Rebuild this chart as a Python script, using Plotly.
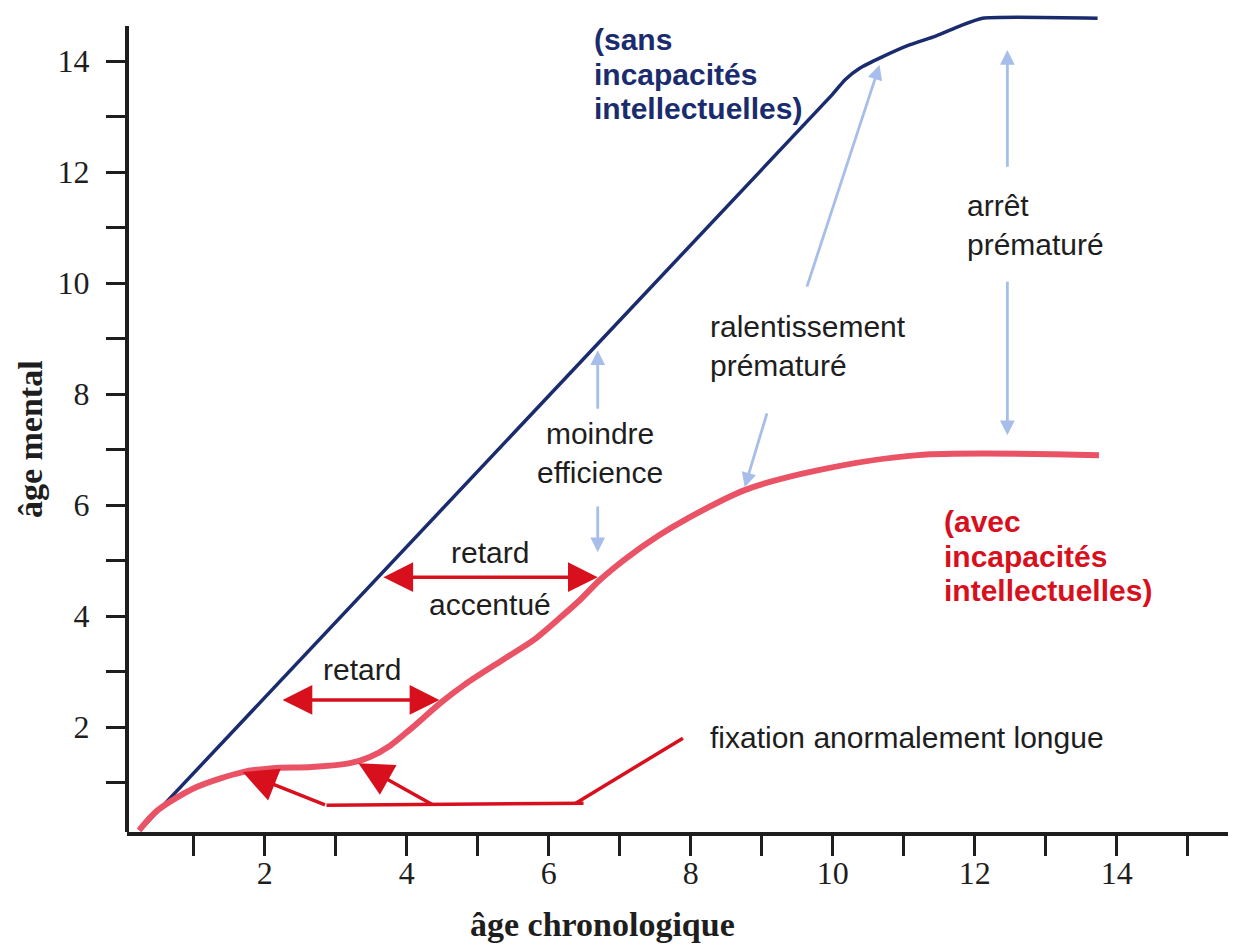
import plotly.graph_objects as go

# ---- data ----
chrono_typical = [0.24, 9.99, 10.17, 10.38, 10.69, 11.08, 11.45, 11.79, 12.11, 13.73]
mental_typical = [0.14, 13.39, 13.66, 13.87, 14.07, 14.29, 14.45, 14.63, 14.77, 14.77]

chrono_id = [0.23, 0.49, 1.04, 1.69, 2.11, 2.66, 3.20, 3.48, 3.76, 4.04, 4.49, 4.82,
             5.35, 5.79, 6.15, 6.44, 6.72, 7.10, 7.56, 7.97, 8.76, 9.80, 11.20, 13.75]
mental_id = [0.14, 0.50, 0.92, 1.19, 1.26, 1.28, 1.35, 1.46, 1.66, 1.95, 2.45, 2.77,
             3.21, 3.57, 3.96, 4.29, 4.65, 5.05, 5.46, 5.77, 6.27, 6.63, 6.90, 6.90]

x_tick_vals = list(range(1, 16))
x_tick_text = [str(v) if v % 2 == 0 and v <= 14 else "" for v in x_tick_vals]
y_tick_vals = list(range(1, 15))
y_tick_text = [str(v) if v % 2 == 0 else "" for v in y_tick_vals]
y_axis_top = 14.63

NAVY = "#1a2c6e"
PINK = "#ea5365"
RED = "#d8101e"
LBLUE = "#a6bee9"
INK = "#1e1e1e"

fig = go.Figure()
fig.add_trace(go.Scatter(x=chrono_typical, y=mental_typical, mode="lines",
                         line=dict(color=NAVY, width=3.5, shape="spline", smoothing=0.5),
                         showlegend=False, hoverinfo="skip"))
fig.add_trace(go.Scatter(x=chrono_id, y=mental_id, mode="lines",
                         line=dict(color=PINK, width=6, shape="spline", smoothing=0.8),
                         showlegend=False, hoverinfo="skip"))

annotations = []


def arrow(x, y, ax, ay, color, width, size, both=False):
    d = dict(x=x, y=y, ax=ax, ay=ay, xref="x", yref="y", axref="x", ayref="y",
             text="", showarrow=True, arrowhead=2, arrowsize=size, arrowwidth=width,
             arrowcolor=color)
    if both:
        d.update(arrowside="end+start", startarrowhead=2, startarrowsize=size)
    return d


# red arrows
annotations.append(arrow(4.46, 2.49, 2.23, 2.49, RED, 3.5, 1.7, both=True))
annotations.append(arrow(6.69, 4.70, 3.65, 4.70, RED, 3.5, 1.7, both=True))
annotations.append(arrow(1.69, 1.19, 2.87, 0.59, RED, 3.5, 1.95))
annotations.append(arrow(3.32, 1.35, 4.38, 0.59, RED, 3.5, 1.95))

# light blue arrows
annotations.append(arrow(6.69, 8.79, 6.69, 7.71, LBLUE, 2.8, 1.05))
annotations.append(arrow(6.69, 5.15, 6.69, 6.00, LBLUE, 2.8, 1.05))
annotations.append(arrow(10.66, 13.93, 9.63, 9.91, LBLUE, 2.8, 1.05))
annotations.append(arrow(8.76, 6.32, 9.08, 7.68, LBLUE, 2.8, 1.05))
annotations.append(arrow(12.46, 14.20, 12.46, 12.07, LBLUE, 2.8, 1.05))
annotations.append(arrow(12.46, 7.26, 12.46, 10.05, LBLUE, 2.8, 1.05))

SANS = "Liberation Sans, Arial, sans-serif"


def label(text, x, y, xanchor="left", align="left", color=INK, size=30, bold=False):
    return dict(x=x, y=y, xref="x", yref="y", text=("<b>%s</b>" % text) if bold else text,
                showarrow=False, xanchor=xanchor, yanchor="middle", align=align,
                font=dict(family=SANS, size=size, color=color))


annotations += [
    label("(sans", 6.61, 14.38, color=NAVY, bold=True),
    label("incapacités", 6.61, 13.75, color=NAVY, bold=True),
    label("intellectuelles)", 6.61, 13.14, color=NAVY, bold=True),
    label("arrêt<br>prématuré", 11.87, 11.05),
    label("ralentissement<br>prématuré", 8.24, 8.86),
    label("moindre<br>efficience", 6.72, 6.93, xanchor="center", align="center"),
    label("retard", 5.17, 5.15, xanchor="center"),
    label("accentué", 5.17, 4.20, xanchor="center"),
    label("retard", 3.37, 3.03, xanchor="center"),
    label("fixation anormalement longue", 8.24, 1.82),
    label("(avec", 11.54, 5.71, color=RED, bold=True),
    label("incapacités", 11.54, 5.08, color=RED, bold=True),
    label("intellectuelles)", 11.54, 4.47, color=RED, bold=True),
]

SERIF = "Liberation Serif, Times New Roman, serif"
annotations.append(dict(x=0.429, y=-0.113, xref="paper", yref="paper", showarrow=False,
                        text="<b>âge chronologique</b>", xanchor="center", yanchor="middle",
                        font=dict(family=SERIF, size=34, color=INK)))
annotations.append(dict(x=-0.0875, y=0.478, xref="paper", yref="paper", showarrow=False,
                        text="<b>âge mental</b>", textangle=-90, xanchor="center", yanchor="middle",
                        font=dict(family=SERIF, size=34, color=INK)))

shapes = [
    dict(type="line", xref="x", yref="y", x0=2.87, y0=0.59, x1=6.49, y1=0.63,
         line=dict(color=RED, width=3.5)),
    dict(type="line", xref="x", yref="y", x0=6.38, y0=0.63, x1=7.89, y1=1.80,
         line=dict(color=RED, width=3.5)),
    # vertical axis line (stops below the top of the plotting area, as in the reference)
    dict(type="line", xref="paper", yref="y", x0=0, y0=0.075, x1=0, y1=y_axis_top,
         line=dict(color=INK, width=4)),
]

axis_common = dict(showgrid=False, zeroline=False,
                   ticks="outside", ticklen=20, tickwidth=3, tickcolor=INK,
                   tickfont=dict(family=SERIF, size=32, color=INK))

# page has an 8px body margin: figure is 8px smaller and margins shifted accordingly
fig.update_layout(
    width=1228, height=937,
    margin=dict(l=119, r=0, t=2, b=113),
    paper_bgcolor="white", plot_bgcolor="white",
    xaxis=dict(range=[0.06, 15.68], tickmode="array", tickvals=x_tick_vals,
               ticktext=x_tick_text, showline=True, linecolor=INK, linewidth=4,
               ticklabelstandoff=-10, **axis_common),
    yaxis=dict(range=[0.11, 14.92], tickmode="array", tickvals=y_tick_vals,
               ticktext=y_tick_text, showline=False, ticklabelstandoff=10, **axis_common),
    annotations=annotations,
    shapes=shapes,
    showlegend=False,
)

fig.write_html("out.html")
